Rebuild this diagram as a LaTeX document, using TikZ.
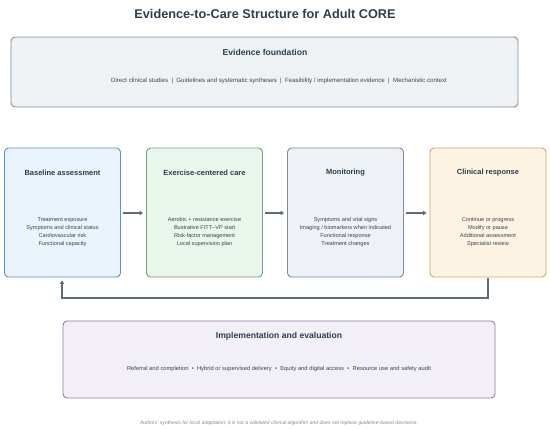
\documentclass[tikz,border=0pt]{standalone}
\usepackage{fontspec}
\setmainfont{Liberation Sans}
\usetikzlibrary{arrows.meta}
\definecolor{titlec}{HTML}{2C3E50}
\definecolor{txtc}{HTML}{3A4450}
\definecolor{evfill}{HTML}{EEF2F5}
\definecolor{evdraw}{HTML}{7F8E9B}
\definecolor{bafill}{HTML}{EAF3FB}
\definecolor{badraw}{HTML}{5F93BF}
\definecolor{exfill}{HTML}{EAF5EC}
\definecolor{exdraw}{HTML}{6BA67C}
\definecolor{mofill}{HTML}{EEF1F5}
\definecolor{modraw}{HTML}{7D8C9B}
\definecolor{clfill}{HTML}{FCF3E3}
\definecolor{cldraw}{HTML}{D3A45E}
\definecolor{imfill}{HTML}{F2EFF7}
\definecolor{imdraw}{HTML}{8F7BA7}
\definecolor{arrc}{HTML}{5D6D7E}
\definecolor{footc}{HTML}{7F8C8D}
\begin{document}
\begin{tikzpicture}[x=1pt,y=-1pt,
  box/.style={rounded corners=4pt, line width=0.9pt},
  bigtitle/.style={font=\bfseries\fontsize{8.6}{10}\selectfont, text=titlec, anchor=center},
  boxtitle/.style={font=\bfseries\fontsize{7.5}{9}\selectfont, text=titlec, anchor=center},
  boxtext/.style={font=\fontsize{5.6}{8}\selectfont, text=txtc, align=center, anchor=north},
  flow/.style={draw=arrc, line width=1.3pt, -{Triangle[length=3.5pt,width=4.5pt]}}
]
\useasboundingbox (0,0) rectangle (550,429);
\node[font=\bfseries\fontsize{12.7}{14}\selectfont, text=titlec] (title) at (265,14) {Evidence-to-Care Structure for Adult CORE};

% Evidence foundation
\draw[box, fill=evfill, draw=evdraw] (11,37) rectangle (518,107);
\node[bigtitle] (evt) at (265,52) {Evidence foundation};
\node[font=\fontsize{6.1}{7}\selectfont, text=txtc] (evx) at (279,81) {Direct clinical studies~~|~~Guidelines and systematic syntheses~~|~~Feasibility / implementation evidence~~|~~Mechanistic context};

% Four boxes
\node[box, fill=bafill, draw=badraw, minimum width=116pt, minimum height=129pt, inner sep=0pt] (ba) at (62.5,212.5) {};
\node[box, fill=exfill, draw=exdraw, minimum width=116pt, minimum height=129pt, inner sep=0pt] (ex) at (204.5,212.5) {};
\node[box, fill=mofill, draw=modraw, minimum width=116pt, minimum height=129pt, inner sep=0pt] (mo) at (345.5,212.5) {};
\node[box, fill=clfill, draw=cldraw, minimum width=116pt, minimum height=129pt, inner sep=0pt] (cl) at (488,212.5) {};

\node[boxtitle] (bat) at (62.5,172.5) {Baseline assessment};
\node[boxtitle] (ext) at (204.5,172.5) {Exercise-centered care};
\node[boxtitle] (mot) at (345.5,172.5) {Monitoring};
\node[boxtitle] (clt) at (488,172.5) {Clinical response};

\node[boxtext] (bax) at (62.5,214) {Treatment exposure\\Symptoms and clinical status\\Cardiovascular risk\\Functional capacity};
\node[boxtext] (exx) at (204.5,214) {Aerobic + resistance exercise\\Illustrative FITT--VP start\\Risk-factor management\\Local supervision plan};
\node[boxtext] (mox) at (345.5,214) {Symptoms and vital signs\\Imaging / biomarkers when indicated\\Functional response\\Treatment changes};
\node[boxtext] (clx) at (488,214) {Continue or progress\\Modify or pause\\Additional assessment\\Specialist review};

\draw[flow] ([xshift=2pt]ba.east |- 0,213) -- ([xshift=-3pt]ex.west |- 0,213);
\draw[flow] ([xshift=2pt]ex.east |- 0,213) -- ([xshift=-3pt]mo.west |- 0,213);
\draw[flow] ([xshift=2pt]mo.east |- 0,213) -- ([xshift=-3pt]cl.west |- 0,213);

% feedback loop
\draw[flow] ([yshift=-1pt]cl.south) -- (488,298) -- (62,298) -- ([yshift=-3pt]ba.south -| 62,0);

% Implementation
\draw[box, fill=imfill, draw=imdraw] (63,321) rectangle (495,398);
\node[bigtitle] (imt) at (279,336) {Implementation and evaluation};
\node[font=\fontsize{5.8}{7}\selectfont, text=txtc] (imx) at (279,369) {Referral and completion~~\textbullet~~Hybrid or supervised delivery~~\textbullet~~Equity and digital access~~\textbullet~~Resource use and safety audit};

\node[font=\itshape\fontsize{5.05}{6}\selectfont, text=footc] (foot) at (279,423) {Authors' synthesis for local adaptation; it is not a validated clinical algorithm and does not replace guideline-based decisions.};
\end{tikzpicture}
\end{document}
